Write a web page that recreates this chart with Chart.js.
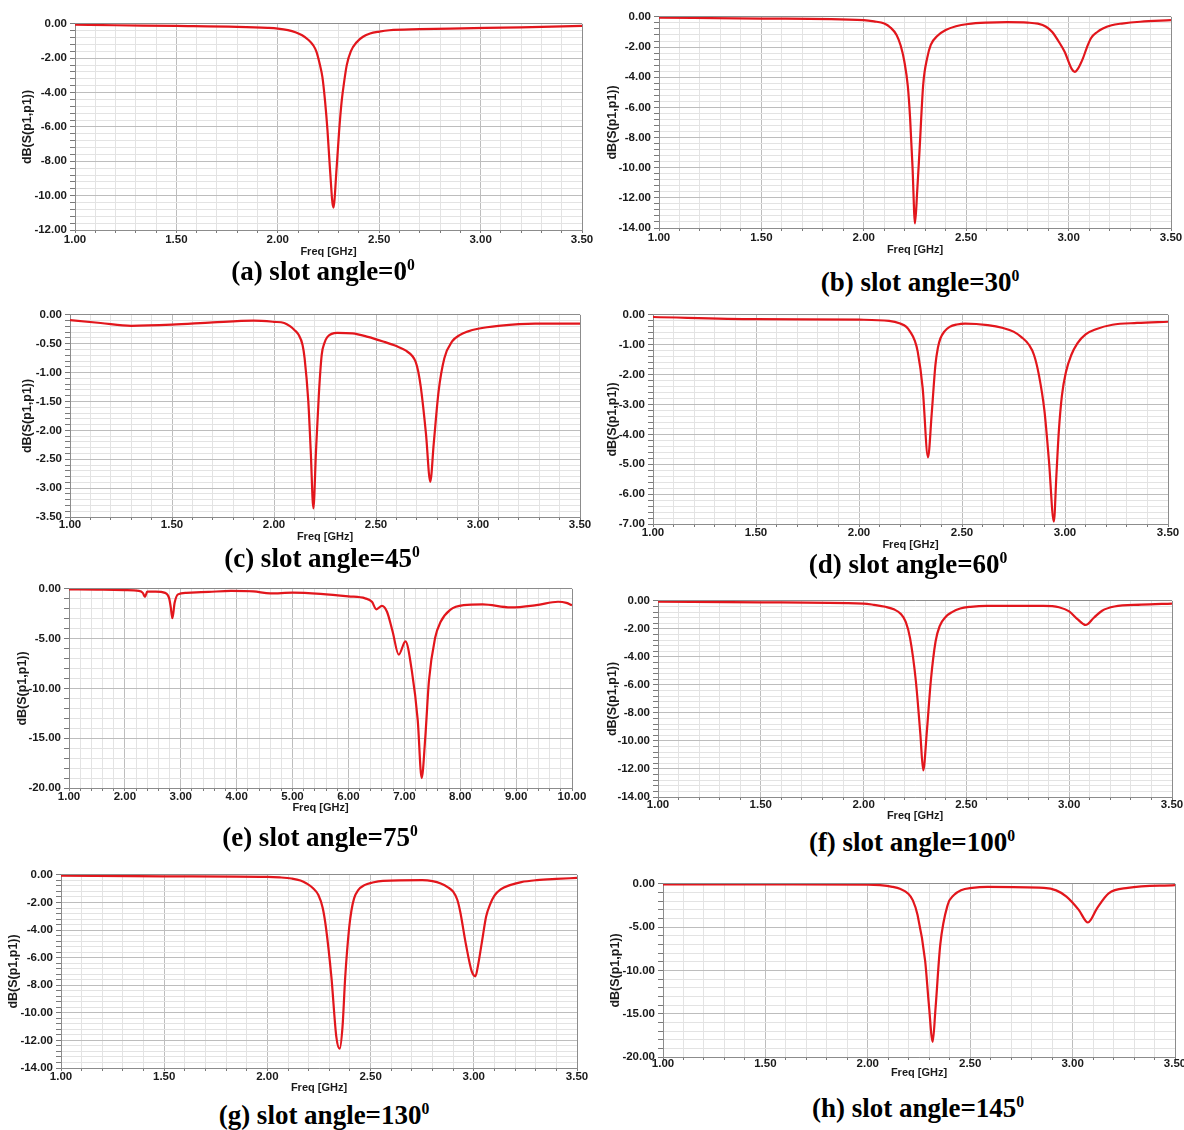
<!DOCTYPE html>
<html><head><meta charset="utf-8">
<script src="https://cdn.jsdelivr.net/npm/chart.js@4.4.1/dist/chart.umd.min.js"></script>
<style>
html,body{margin:0;padding:0;background:#fff;}
#wrap{position:relative;width:1184px;height:1130px;overflow:hidden;background:#fff;}
#wrap canvas{position:absolute;}
.cap{position:absolute;width:400px;text-align:center;font-family:'Liberation Serif','Times New Roman',serif;font-weight:bold;font-size:27px;line-height:30px;color:#000;white-space:nowrap;}
.cap sup{font-size:0.58em;line-height:0;vertical-align:0.65em;}
</style></head><body><div id="wrap"></div>
<script>
// ---- data (freq in GHz, S11 in dB) ----
const freqA = [1.00, 1.20, 1.50, 1.80, 1.95, 2.00, 2.05, 2.09, 2.12, 2.15, 2.175, 2.19, 2.208, 2.22, 2.233, 2.245, 2.257, 2.274, 2.29, 2.302, 2.315, 2.328, 2.34, 2.36, 2.39, 2.42, 2.455, 2.50, 2.55, 2.70, 2.85, 3.20, 3.50];
const s11A  = [-0.05, -0.08, -0.12, -0.17, -0.23, -0.27, -0.36, -0.50, -0.66, -0.92, -1.25, -1.60, -2.40, -3.10, -4.50, -6.20, -8.40, -10.70, -8.40, -6.30, -4.50, -3.30, -2.40, -1.60, -1.05, -0.75, -0.56, -0.45, -0.37, -0.31, -0.27, -0.20, -0.12];

const freqB = [1.00, 1.50, 2.00, 2.05, 2.10, 2.13, 2.16, 2.18, 2.198, 2.215, 2.226, 2.238, 2.25, 2.261, 2.272, 2.29, 2.31, 2.327, 2.36, 2.40, 2.45, 2.51, 2.60, 2.70, 2.80, 2.85, 2.89, 2.92, 2.95, 2.98, 3.015, 3.03, 3.045, 3.07, 3.09, 3.11, 3.14, 3.165, 3.21, 3.26, 3.35, 3.50];
const s11B  = [-0.05, -0.11, -0.22, -0.30, -0.44, -0.70, -1.20, -1.90, -2.96, -4.60, -6.70, -10.00, -13.70, -11.50, -8.90, -4.50, -2.70, -1.85, -1.25, -0.87, -0.62, -0.47, -0.38, -0.35, -0.38, -0.45, -0.65, -1.00, -1.60, -2.30, -3.45, -3.65, -3.45, -2.75, -2.00, -1.40, -1.00, -0.78, -0.55, -0.44, -0.32, -0.22];

const freqC = [1.00, 1.15, 1.30, 1.50, 1.70, 1.90, 2.00, 2.05, 2.08, 2.10, 2.12, 2.14, 2.15, 2.168, 2.18, 2.193, 2.206, 2.22, 2.234, 2.248, 2.262, 2.31, 2.385, 2.46, 2.535, 2.60, 2.647, 2.68, 2.694, 2.707, 2.72, 2.745, 2.766, 2.783, 2.807, 2.835, 2.873, 2.91, 2.948, 3.00, 3.10, 3.28, 3.50];
const s11C  = [-0.09, -0.14, -0.19, -0.17, -0.13, -0.10, -0.12, -0.14, -0.20, -0.26, -0.34, -0.52, -0.75, -1.49, -2.35, -3.35, -2.35, -1.37, -0.69, -0.48, -0.38, -0.31, -0.32, -0.38, -0.46, -0.54, -0.62, -0.72, -0.81, -0.98, -1.26, -2.06, -2.89, -2.23, -1.32, -0.75, -0.46, -0.35, -0.29, -0.24, -0.19, -0.15, -0.15];

const freqD = [1.00, 1.50, 2.00, 2.146, 2.20, 2.23, 2.248, 2.27, 2.285, 2.309, 2.335, 2.353, 2.371, 2.383, 2.395, 2.415, 2.44, 2.475, 2.515, 2.625, 2.70, 2.75, 2.79, 2.825, 2.85, 2.873, 2.90, 2.922, 2.946, 2.958, 2.97, 2.985, 3.005, 3.03, 3.06, 3.10, 3.15, 3.23, 3.35, 3.50];
const s11D  = [-0.07, -0.14, -0.16, -0.20, -0.29, -0.40, -0.56, -0.85, -1.23, -2.44, -4.77, -3.30, -1.67, -1.10, -0.79, -0.55, -0.40, -0.32, -0.29, -0.34, -0.44, -0.56, -0.75, -1.00, -1.35, -2.00, -3.20, -4.88, -6.92, -5.40, -3.90, -2.70, -1.90, -1.35, -0.95, -0.65, -0.48, -0.33, -0.27, -0.23];

const freqE = [1.00, 1.50, 2.00, 2.25, 2.32, 2.36, 2.40, 2.55, 2.72, 2.79, 2.82, 2.85, 2.89, 2.95, 3.10, 3.50, 3.90, 4.30, 4.60, 5.00, 5.50, 6.00, 6.30, 6.42, 6.50, 6.60, 6.69, 6.79, 6.90, 7.02, 7.135, 7.24, 7.31, 7.375, 7.44, 7.55, 7.65, 7.82, 8.06, 8.40, 8.90, 9.36, 9.75, 9.90, 10.00];
const s11E  = [-0.05, -0.08, -0.12, -0.20, -0.40, -0.80, -0.28, -0.28, -0.40, -0.90, -1.80, -2.95, -1.40, -0.55, -0.40, -0.30, -0.20, -0.25, -0.45, -0.38, -0.50, -0.75, -0.95, -1.30, -2.05, -1.70, -2.29, -4.28, -6.60, -5.27, -8.26, -13.20, -19.00, -14.90, -9.25, -4.94, -3.30, -2.10, -1.63, -1.56, -1.86, -1.63, -1.29, -1.40, -1.65];

const freqF = [1.00, 1.50, 2.00, 2.05, 2.106, 2.15, 2.18, 2.205, 2.226, 2.254, 2.276, 2.29, 2.308, 2.327, 2.35, 2.37, 2.40, 2.43, 2.47, 2.52, 2.60, 2.875, 2.95, 3.00, 3.04, 3.08, 3.12, 3.16, 3.22, 3.35, 3.50];
const s11F  = [-0.05, -0.10, -0.19, -0.28, -0.42, -0.62, -0.92, -1.50, -2.66, -5.70, -9.50, -12.10, -9.26, -5.70, -2.90, -1.80, -1.13, -0.80, -0.54, -0.42, -0.35, -0.35, -0.45, -0.75, -1.30, -1.72, -1.20, -0.70, -0.40, -0.27, -0.19];

const freqG = [1.00, 1.50, 2.00, 2.06, 2.117, 2.16, 2.19, 2.22, 2.247, 2.268, 2.284, 2.31, 2.334, 2.35, 2.364, 2.377, 2.396, 2.407, 2.42, 2.44, 2.47, 2.51, 2.56, 2.75, 2.80, 2.84, 2.875, 2.90, 2.92, 2.934, 2.962, 2.99, 3.008, 3.02, 3.04, 3.06, 3.08, 3.10, 3.13, 3.175, 3.23, 3.305, 3.40, 3.50];
const s11G  = [-0.05, -0.10, -0.14, -0.18, -0.26, -0.40, -0.62, -0.95, -1.46, -2.40, -3.85, -7.40, -11.75, -12.60, -11.00, -7.40, -3.85, -2.60, -1.70, -1.10, -0.74, -0.55, -0.43, -0.38, -0.45, -0.62, -0.90, -1.22, -1.80, -2.65, -5.05, -7.00, -7.35, -6.60, -4.80, -3.00, -2.10, -1.50, -1.05, -0.74, -0.52, -0.38, -0.29, -0.22];

const freqH = [1.00, 1.50, 2.00, 2.06, 2.12, 2.16, 2.196, 2.22, 2.243, 2.28, 2.298, 2.317, 2.33, 2.354, 2.39, 2.42, 2.455, 2.51, 2.585, 2.86, 2.92, 2.97, 3.03, 3.075, 3.12, 3.176, 3.27, 3.50];
const s11H  = [-0.05, -0.06, -0.08, -0.15, -0.34, -0.60, -1.10, -1.90, -3.60, -8.90, -13.90, -18.25, -14.60, -7.00, -2.43, -1.30, -0.72, -0.45, -0.34, -0.46, -0.75, -1.47, -3.00, -4.46, -2.80, -1.10, -0.46, -0.15];

const captions = ['(a) slot angle=0', '(b) slot angle=30', '(c) slot angle=45', '(d) slot angle=60',
                  '(e) slot angle=75', '(f) slot angle=100', '(g) slot angle=130', '(h) slot angle=145'];
const yTitle = 'dB(S(p1,p1))';
const xTitle = 'Freq [GHz]';

// ---- layout per panel (page pixels) ----
const panels = [
  {f:freqA, v:s11A, cap:captions[0], L:75,  T:22,  R:582,  B:230,  tx:28,  xl:10, fy:252, cx:323, cy:271, xmin:1, xmax:3.5, xmaj:0.5, xmin_:0.1, ymin:-12,  ymaj:2,   ymin_:0.4},
  {f:freqB, v:s11B, cap:captions[1], L:659, T:15,  R:1171, B:228,  tx:613, xl:10, fy:250, cx:920, cy:282, xmin:1, xmax:3.5, xmaj:0.5, xmin_:0.1, ymin:-14,  ymaj:2,   ymin_:0.4},
  {f:freqC, v:s11C, cap:captions[2], L:70,  T:313, R:580,  B:517,  tx:28,  xl:8,  fy:537, cx:322, cy:558, xmin:1, xmax:3.5, xmaj:0.5, xmin_:0.1, ymin:-3.5, ymaj:0.5, ymin_:0.1},
  {f:freqD, v:s11D, cap:captions[3], L:653, T:313, R:1168, B:524,  tx:613, xl:9,  fy:545, cx:908, cy:564, xmin:1, xmax:3.5, xmaj:0.5, xmin_:0.1, ymin:-7,   ymaj:1,   ymin_:0.2},
  {f:freqE, v:s11E, cap:captions[4], L:69,  T:587, R:572,  B:788,  tx:23,  xl:9,  fy:808, cx:320, cy:837, xmin:1, xmax:10,  xmaj:1,   xmin_:0.2, ymin:-20,  ymaj:5,   ymin_:1},
  {f:freqF, v:s11F, cap:captions[5], L:658, T:599, R:1172, B:797,  tx:613, xl:8,  fy:816, cx:912, cy:842, xmin:1, xmax:3.5, xmaj:0.5, xmin_:0.1, ymin:-14,  ymaj:2,   ymin_:0.4},
  {f:freqG, v:s11G, cap:captions[6], L:61,  T:873, R:577,  B:1068, tx:14,  xl:9,  fy:1088,cx:324, cy:1115,xmin:1, xmax:3.5, xmaj:0.5, xmin_:0.1, ymin:-14,  ymaj:2,   ymin_:0.4},
  {f:freqH, v:s11H, cap:captions[7], L:663, T:882, R:1175, B:1057, tx:616, xl:7,  fy:1073,cx:918, cy:1108,xmin:1, xmax:3.5, xmaj:0.5, xmin_:0.1, ymin:-20,  ymaj:5,   ymin_:1}
];

Chart.defaults.font.family = "'Liberation Sans', Arial, sans-serif";
const wrap = document.getElementById('wrap');
const isMaj = (v, m) => Math.abs(v / m - Math.round(v / m)) < 1e-6;
const FRAME = '#8c8c8c', MAJ = '#bdbdbd', MIN = '#e3e3e3';

panels.forEach(p => {
  const padT = 8, padR = 20;
  const tickFont = 11.5, yTitleFont = 12.5, xTitleFont = 11;
  const yW = Math.round(p.L - p.tx + yTitleFont * 1.2 / 2);
  const xH = Math.round(p.fy - p.B + xTitleFont * 1.2 / 2);
  const cl = p.L - yW, ct = p.T - padT;
  const cw = p.R + padR - cl, ch = p.B + xH - ct;
  const cv = document.createElement('canvas');
  cv.width = cw; cv.height = ch;
  cv.style.left = cl + 'px'; cv.style.top = ct + 'px';
  cv.style.width = cw + 'px'; cv.style.height = ch + 'px';
  wrap.appendChild(cv);

  const xTl = 3;
  const xPad = p.xl - xTl - tickFont * 1.2 / 2;

  new Chart(cv, {
    type: 'line',
    data: { datasets: [{
      data: p.f.map((x, i) => ({x: x, y: p.v[i]})),
      borderColor: '#e2161c', borderWidth: 2.2, pointRadius: 0,
      cubicInterpolationMode: 'monotone', fill: false
    }]},
    options: {
      responsive: false, animation: false, events: [],
      layout: { padding: { top: padT, right: padR, left: 0, bottom: 0 } },
      plugins: { legend: { display: false }, tooltip: { enabled: false } },
      scales: {
        x: {
          type: 'linear', min: p.xmin, max: p.xmax,
          afterFit: s => { s.height = xH; },
          ticks: {
            stepSize: p.xmin_, autoSkip: false, maxRotation: 0, minRotation: 0, maxTicksLimit: 1000,
            padding: xPad, color: '#1a1a1a', font: { size: tickFont, weight: 'bold' },
            callback: v => isMaj(v, p.xmaj) ? v.toFixed(2) : ''
          },
          grid: {
            color: c => (Math.abs(c.tick.value - p.xmax) < 1e-6) ? FRAME : (isMaj(c.tick.value, p.xmaj) ? MAJ : MIN),
            tickColor: '#7a7a7a', tickLength: xTl, lineWidth: 1
          },
          border: { display: true, color: FRAME, width: 1 },
          title: { display: true, text: xTitle, color: '#1a1a1a', padding: 0, font: { size: xTitleFont, weight: 'bold' } }
        },
        y: {
          type: 'linear', min: p.ymin, max: 0,
          afterFit: s => { s.width = yW; },
          ticks: {
            stepSize: p.ymin_, autoSkip: false, maxTicksLimit: 1000,
            padding: 3, color: '#1a1a1a', font: { size: tickFont, weight: 'bold' },
            callback: v => isMaj(v, p.ymaj) ? v.toFixed(2) : ''
          },
          grid: {
            color: c => (Math.abs(c.tick.value) < 1e-6) ? FRAME : (isMaj(c.tick.value, p.ymaj) ? MAJ : MIN),
            tickColor: '#7a7a7a', tickLength: 5, lineWidth: 1
          },
          border: { display: true, color: FRAME, width: 1 },
          title: { display: true, text: yTitle, color: '#1a1a1a', padding: 0, font: { size: yTitleFont, weight: 'bold' } }
        }
      }
    }
  });

  const d = document.createElement('div');
  d.className = 'cap';
  const m = p.cap.match(/^(.*?)(\d+)$/);
  d.innerHTML = m[1] + m[2] + '<sup>0</sup>';
  d.style.left = (p.cx - 200) + 'px';
  d.style.top = (p.cy - 15) + 'px';
  wrap.appendChild(d);
});
</script></body></html>
